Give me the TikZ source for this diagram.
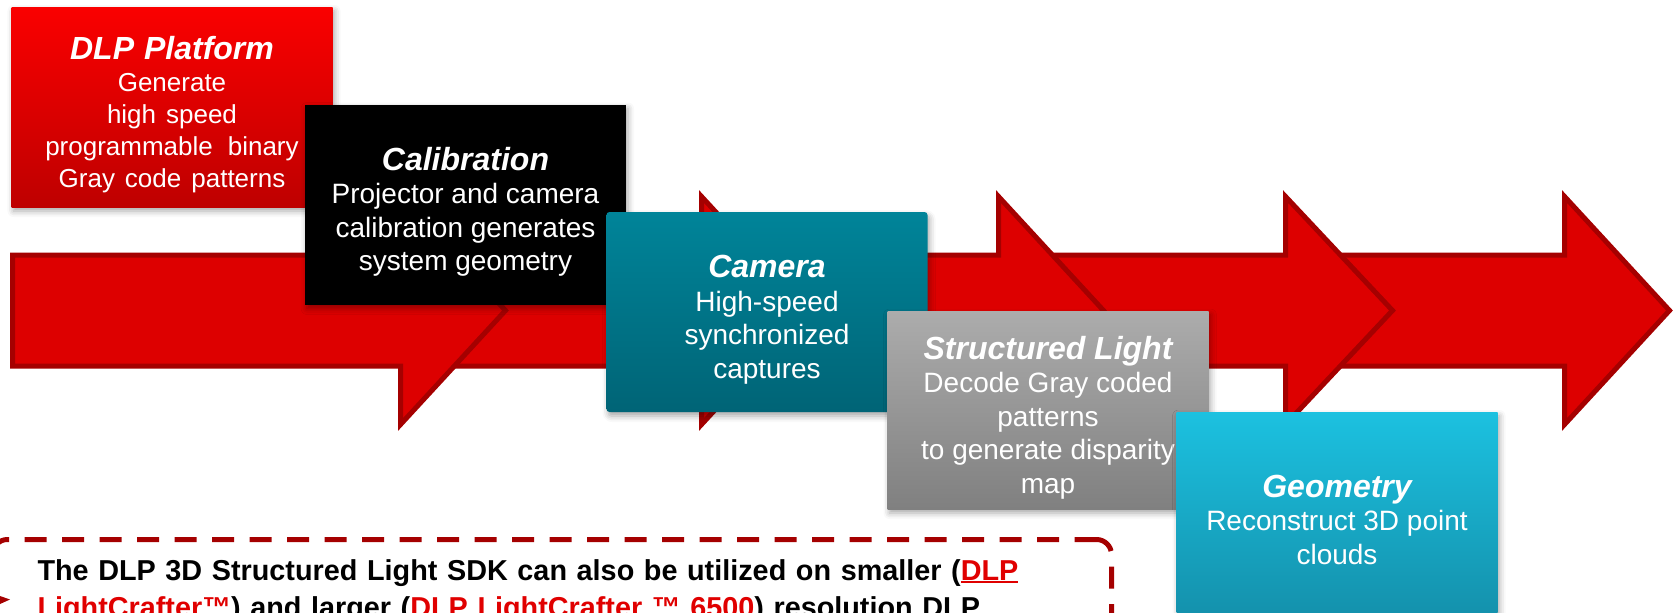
\documentclass[tikz,border=0pt]{standalone}
\usepackage{fontspec}
\setmainfont{Liberation Sans}
\usepackage{xcolor}
\usetikzlibrary{shadows.blur}
\definecolor{tired}{RGB}{221,0,0}
\definecolor{tidark}{RGB}{165,0,0}
\definecolor{linkred}{RGB}{224,0,0}
\definecolor{dlptop}{RGB}{250,0,0}
\definecolor{dlpbot}{RGB}{190,0,0}
\definecolor{camtop}{RGB}{0,132,153}
\definecolor{cambot}{RGB}{0,100,118}
\definecolor{sltop}{RGB}{172,172,172}
\definecolor{slbot}{RGB}{128,128,128}
\definecolor{geotop}{RGB}{28,193,224}
\definecolor{geobot}{RGB}{20,146,173}
\newcommand{\boxtitle}[1]{{\fontsize{32}{36}\selectfont\bfseries\itshape\rule{0pt}{38pt}#1}}
\newcommand{\dlpfont}{\fontsize{26}{32}\selectfont\spaceskip=10pt\relax}
\newcommand{\linkul}[1]{\textcolor{linkred}{\setbox0\hbox{#1}\rlap{\rule[-2.5pt]{\wd0}{1.5pt}}\box0}}

\begin{document}
\begin{tikzpicture}[x=1pt,y=-1pt,
	bigarrow/.style={fill=tired,draw=tidark,line width=5pt,line join=miter},
	stepbox/.style={minimum width=321pt,minimum height=200pt,inner sep=0pt,align=center,text=white,
		font=\fontsize{28}{33.5}\selectfont,
		blur shadow={shadow xshift=2pt,shadow yshift=-4pt,shadow blur radius=6pt,shadow opacity=35}},
	notebox/.style={draw=tidark,line width=5pt,dash pattern=on 22pt off 15.5pt,rounded corners=15pt,
		align=left,text width=1029pt,inner xsep=45pt,inner ysep=20pt,
		font=\fontsize{28.8}{37}\selectfont\bfseries}]
	\useasboundingbox (0,0) rectangle (1674,613);
	\clip (0,0) rectangle (1674,613);

	% the arrow chain, last one first
	\draw[bigarrow] (1285.5,255) -- (1564.5,255) -- (1564.5,196.5) -- (1669.5,310.5) -- (1564.5,424.5) -- (1564.5,366) -- (1285.5,366) -- cycle;
	\draw[bigarrow] (998.5,255) -- (1285.5,255) -- (1285.5,196.5) -- (1392.5,310.5) -- (1285.5,424.5) -- (1285.5,366) -- (998.5,366) -- cycle;
	\draw[bigarrow] (701.5,255) -- (998.5,255) -- (998.5,196.5) -- (1103.5,310.5) -- (998.5,424.5) -- (998.5,366) -- (701.5,366) -- cycle;
	\draw[bigarrow] (400.5,255) -- (701.5,255) -- (701.5,196.5) -- (806.5,310.5) -- (701.5,424.5) -- (701.5,366) -- (400.5,366) -- cycle;
	\draw[bigarrow] (12.5,255) -- (400.5,255) -- (400.5,196.5) -- (505.5,310.5) -- (400.5,424.5) -- (400.5,366) -- (12.5,366) -- cycle;

	% steps
	\node[stepbox,top color=dlptop,bottom color=dlpbot,font=\dlpfont] (dlp) at (172,107)
		{\boxtitle{DLP Platform}\\ Generate\\ high speed\\ programmable\hspace{15pt}binary\\ Gray code patterns};
	\node[stepbox,fill=black] (calib) at (465.5,204.5)
		{\boxtitle{Calibration}\\ Projector and camera\\ calibration generates\\ system geometry};
	\node[stepbox,top color=camtop,bottom color=cambot,rounded corners=3pt] (cam) at (767,312)
		{\boxtitle{Camera}\\ High-speed\\ synchronized\\ captures};
	\node[stepbox,top color=sltop,bottom color=slbot,minimum height=198pt] (sl) at (1048,410)
		{\boxtitle{Structured Light}\\ Decode Gray coded\\ patterns\\ to generate disparity\\ map};
	\node[stepbox,top color=geotop,bottom color=geobot] (geo) at (1337,512)
		{\boxtitle{Geometry}\\ Reconstruct 3D point\\ clouds};

	% note
	\node[notebox,anchor=north west] (note) at (-10,537)
		{The DLP 3D Structured Light SDK can also be utilized on smaller (\linkul{DLP}\\
		\linkul{LightCrafter™}) and larger (\linkul{DLP LightCrafter ™ 6500}) resolution DLP};
	\fill[tidark] (0,596) -- (10,599.5) -- (0,604) -- cycle;
\end{tikzpicture}
\end{document}
